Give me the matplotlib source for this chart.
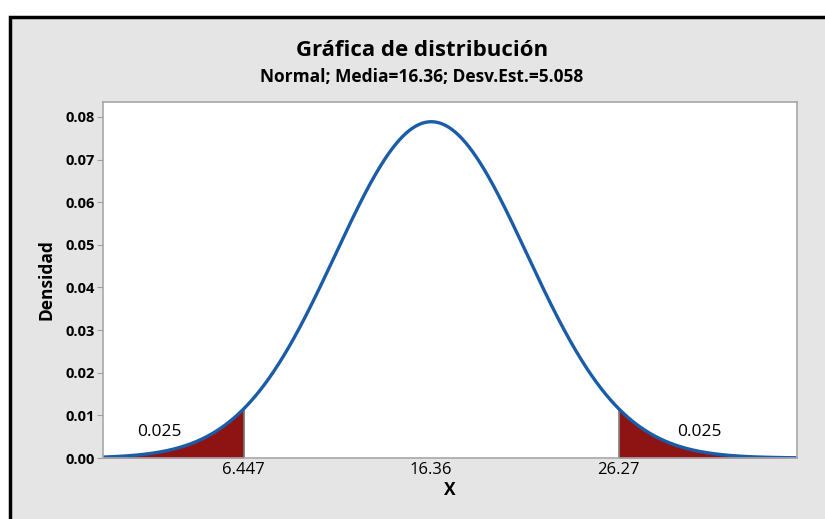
import numpy as np
import matplotlib
matplotlib.use("Agg")
import matplotlib.pyplot as plt
from matplotlib.patches import Rectangle

plt.rcParams["font.family"] = ["Open Sans", "DejaVu Sans"]

media = 16.36
desv = 5.058
x_lim = (-1.0, 35.7)
cola_izq = 6.447
cola_der = 26.27
area_cola = "0.025"
y_ticks = [0.00, 0.01, 0.02, 0.03, 0.04, 0.05, 0.06, 0.07, 0.08]
x_ticks = [6.447, 16.36, 26.27]
x_tick_labels = ["6.447", "16.36", "26.27"]

x = np.linspace(x_lim[0], x_lim[1], 800)
dens = np.exp(-0.5 * ((x - media) / desv) ** 2) / (desv * np.sqrt(2 * np.pi))

fig = plt.figure(figsize=(8.25, 5.19), dpi=100)
fig.patch.set_facecolor("white")
# gray panel with black frame (only left/top visible)
fig.patches.append(Rectangle((9.5 / 825, -0.1), 1.2, (519 - 17.5) / 519 + 0.1,
                             transform=fig.transFigure, facecolor="#e5e5e5",
                             edgecolor="black", linewidth=2.5, zorder=-10))

ax = fig.add_axes([103 / 825, 1 - 458 / 519, (797 - 103) / 825, (458 - 102) / 519])
ax.set_facecolor("white")

red = "#8e1414"
m = x <= cola_izq
ax.fill_between(x[m], 0, dens[m], color=red, linewidth=0)
m = x >= cola_der
ax.fill_between(x[m], 0, dens[m], color=red, linewidth=0)
for c in (cola_izq, cola_der):
    d = np.exp(-0.5 * ((c - media) / desv) ** 2) / (desv * np.sqrt(2 * np.pi))
    ax.plot([c, c], [0, d], color="#7a7a7a", linewidth=1.2)

ax.plot(x, dens, color="#1a5ca8", linewidth=2.4)

ax.text(2.0, 0.0061, area_cola, ha="center", va="center", fontsize=12.5)
ax.text(30.55, 0.0061, area_cola, ha="center", va="center", fontsize=12.5)

ax.set_xlim(x_lim)
ax.set_ylim(0, 0.0835)
ax.set_yticks(y_ticks)
ax.set_yticklabels([f"{v:.2f}" for v in y_ticks], fontweight="bold", fontsize=10.5)
ax.set_xticks(x_ticks)
ax.set_xticklabels(x_tick_labels, fontsize=12)
ax.tick_params(axis="x", length=0, pad=3)
ax.tick_params(axis="y", length=4, color="#a0a0a0", pad=2)
for s in ax.spines.values():
    s.set_color("#a8a8a8")
    s.set_linewidth(1.2)

ax.set_xlabel("X", fontweight="bold", fontsize=12.5, labelpad=2)
ax.set_ylabel("Densidad", fontweight="bold", fontsize=12.5, labelpad=7)

fig.text(422 / 825, 1 - 51 / 519, "Gráfica de distribución", ha="center", va="center",
         fontweight="bold", fontsize=16)
fig.text(422 / 825, 1 - 77 / 519, "Normal; Media=16.36; Desv.Est.=5.058", ha="center",
         va="center", fontweight="bold", fontsize=12.5)

fig.savefig("out.png", dpi=100)
